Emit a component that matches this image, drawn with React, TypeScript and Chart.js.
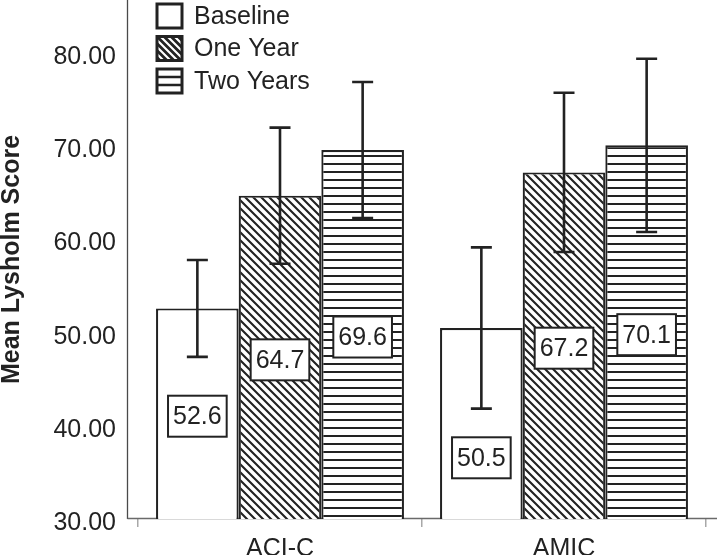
import React, { useEffect, useRef } from 'react';
import { Chart, registerables } from 'chart.js';

Chart.register(...registerables);

const categories = ['ACI-C', 'AMIC'];
const seriesLabels = ['Baseline', 'One Year', 'Two Years'];
const baseline = [52.6, 50.5];
const oneYear = [64.7, 67.2];
const twoYears = [69.6, 70.1];
const baselineErr = [5.2, 8.65];
const oneYearErr = [7.3, 8.55];
const twoYearsErr = [7.3, 9.3];
const yTicks = [30, 40, 50, 60, 70, 80];
const yMin = 30;
const yMax = 85.7;

const INK = '#222222';
const FONT = "'Liberation Sans', Arial, Helvetica, sans-serif";
const FS = 25;

function makeDiag(): CanvasPattern | string {
  const s = 8;
  const c = document.createElement('canvas');
  c.width = s;
  c.height = s;
  const g = c.getContext('2d');
  if (!g) return '#fff';
  g.fillStyle = '#fff';
  g.fillRect(0, 0, s, s);
  g.strokeStyle = INK;
  g.lineWidth = 2.1;
  g.beginPath();
  g.moveTo(-1, -1);
  g.lineTo(s + 1, s + 1);
  g.moveTo(-2, s - 2);
  g.lineTo(2, s + 2);
  g.moveTo(s - 2, -2);
  g.lineTo(s + 2, 2);
  g.stroke();
  return g.createPattern(c, 'repeat') || '#fff';
}

function makeHoriz(): CanvasPattern | string {
  const s = 8;
  const c = document.createElement('canvas');
  c.width = s;
  c.height = s;
  const g = c.getContext('2d');
  if (!g) return '#fff';
  g.fillStyle = '#fff';
  g.fillRect(0, 0, s, s);
  g.fillStyle = INK;
  g.fillRect(0, 3, s, 2);
  return g.createPattern(c, 'repeat') || '#fff';
}

const axesPlugin = {
  id: 'customAxes',
  beforeDatasetsDraw(chart: any) {
    const { ctx, chartArea } = chart;
    ctx.save();
    ctx.strokeStyle = '#4a4a4a';
    ctx.lineWidth = 1.3;
    ctx.beginPath();
    const ax = chartArea.left - 10.5;
    ctx.moveTo(ax, chartArea.top);
    ctx.lineTo(ax, chartArea.bottom);
    ctx.stroke();
    ctx.strokeStyle = '#6a6a6a';
    ctx.lineWidth = 1.5;
    ctx.beginPath();
    ctx.moveTo(ax, chartArea.bottom - 0.5);
    ctx.lineTo(chart.width, chartArea.bottom - 0.5);
    ctx.stroke();
    ctx.restore();
  },
};

const errorPlugin = {
  id: 'errorBarsAndLabels',
  afterDatasetsDraw(chart: any) {
    const { ctx } = chart;
    const ys = chart.scales.y;
    const base = ys.getPixelForValue(yMin);
    ctx.save();
    chart.data.datasets.forEach((ds: any, di: number) => {
      const meta = chart.getDatasetMeta(di);
      meta.data.forEach((el: any, i: number) => {
        const v = ds.data[i];
        const e = ds.errors[i];
        const hi = ys.getPixelForValue(v + e);
        const lo = ys.getPixelForValue(v - e);
        ctx.strokeStyle = INK;
        ctx.lineWidth = 2.6;
        ctx.beginPath();
        ctx.moveTo(el.x, hi);
        ctx.lineTo(el.x, lo);
        ctx.moveTo(el.x - 10.5, hi);
        ctx.lineTo(el.x + 10.5, hi);
        ctx.moveTo(el.x - 10.5, lo);
        ctx.lineTo(el.x + 10.5, lo);
        ctx.stroke();
      });
    });
    ctx.font = `${FS}px ${FONT}`;
    ctx.textAlign = 'center';
    ctx.textBaseline = 'middle';
    chart.data.datasets.forEach((ds: any, di: number) => {
      const meta = chart.getDatasetMeta(di);
      meta.data.forEach((el: any, i: number) => {
        const v = ds.data[i];
        const e = ds.errors[i];
        const text = v.toFixed(1);
        const w = ctx.measureText(text).width + 10;
        const h = 41;
        const top = ys.getPixelForValue(v);
        const lo = ys.getPixelForValue(v - e);
        let cy = (top + base) / 2 + 2.5;
        if (cy - h / 2 < lo + 4) cy = (lo + base) / 2 - 6;
        ctx.fillStyle = '#fff';
        ctx.fillRect(el.x - w / 2, cy - h / 2, w, h);
        ctx.strokeStyle = INK;
        ctx.lineWidth = 2;
        ctx.strokeRect(el.x - w / 2, cy - h / 2, w, h);
        ctx.fillStyle = INK;
        ctx.fillText(text, el.x, cy + 1);
      });
    });
    ctx.restore();
  },
};

const legendPlugin = {
  id: 'customLegend',
  afterDraw(chart: any) {
    const { ctx } = chart;
    ctx.save();
    const bx = 157;
    const bw = 25;
    const bh = 24;
    chart.data.datasets.forEach((ds: any, di: number) => {
      const by = 4 + di * 32.5;
      ctx.fillStyle = '#fff';
      ctx.fillRect(bx, by, bw, bh);
      ctx.save();
      ctx.beginPath();
      ctx.rect(bx, by, bw, bh);
      ctx.clip();
      ctx.strokeStyle = INK;
      if (ds.hatch === 'diag') {
        ctx.lineWidth = 2.8;
        ctx.beginPath();
        for (let k = -4; k <= 4; k++) {
          const off = k * 7;
          ctx.moveTo(bx + off - 2, by - 2);
          ctx.lineTo(bx + off + bh + 2, by + bh + 2);
        }
        ctx.stroke();
      } else if (ds.hatch === 'horiz') {
        ctx.lineWidth = 2.6;
        ctx.beginPath();
        ctx.moveTo(bx, by + bh / 3);
        ctx.lineTo(bx + bw, by + bh / 3);
        ctx.moveTo(bx, by + (2 * bh) / 3);
        ctx.lineTo(bx + bw, by + (2 * bh) / 3);
        ctx.stroke();
      }
      ctx.restore();
      ctx.strokeStyle = INK;
      ctx.lineWidth = 3;
      ctx.strokeRect(bx, by, bw, bh);
      ctx.fillStyle = INK;
      ctx.font = `${FS}px ${FONT}`;
      ctx.textAlign = 'left';
      ctx.textBaseline = 'middle';
      ctx.fillText(ds.label, 194, by + bh / 2 + 1);
    });
    ctx.restore();
  },
};

export default function App() {
  const ref = useRef<HTMLCanvasElement | null>(null);

  useEffect(() => {
    document.body.style.margin = '0';
    const canvas = ref.current;
    if (!canvas) return;
    const diag = makeDiag();
    const horiz = makeHoriz();
    const common = {
      borderColor: INK,
      borderWidth: 2.2,
      borderSkipped: false,
      categoryPercentage: 0.873,
      barPercentage: 1.0,
    };
    const chart = new Chart(canvas, {
      type: 'bar',
      data: {
        labels: categories,
        datasets: [
          { label: seriesLabels[0], data: baseline, errors: baselineErr, hatch: 'none', backgroundColor: '#ffffff', ...common } as any,
          { label: seriesLabels[1], data: oneYear, errors: oneYearErr, hatch: 'diag', backgroundColor: diag, ...common } as any,
          { label: seriesLabels[2], data: twoYears, errors: twoYearsErr, hatch: 'horiz', backgroundColor: horiz, ...common } as any,
        ],
      },
      options: {
        animation: false,
        responsive: false,
        maintainAspectRatio: false,
        layout: { padding: { left: 0, right: 11, top: 0, bottom: 0 } },
        plugins: {
          legend: { display: false },
          tooltip: { enabled: false },
        },
        scales: {
          x: {
            type: 'category',
            offset: true,
            grid: {
              display: true,
              drawOnChartArea: false,
              drawTicks: true,
              tickLength: 8,
              color: '#a8a8a8',
              lineWidth: 1.5,
              offset: true,
            },
            border: { display: false },
            ticks: {
              font: { family: FONT, size: FS },
              color: INK,
              padding: 7,
            },
            afterFit: (s: any) => {
              s.height = 36;
              s.paddingLeft = 0;
              s.paddingRight = 0;
            },
          },
          y: {
            min: yMin,
            max: yMax,
            afterBuildTicks: (s: any) => {
              s.ticks = yTicks.map((v) => ({ value: v }));
            },
            grid: { display: false },
            border: { display: false },
            ticks: {
              font: { family: FONT, size: FS },
              color: INK,
              padding: 14,
              labelOffset: 4,
              callback: (v: any) => Number(v).toFixed(2),
            },
            title: {
              display: true,
              text: 'Mean Lysholm Score',
              font: { family: FONT, size: FS, weight: 'bold', lineHeight: 1 },
              color: INK,
              padding: { top: 0, bottom: 0 },
            },
            afterFit: (s: any) => {
              s.width = 138;
              s.paddingTop = 0;
              s.paddingBottom = 0;
            },
          },
        },
      } as any,
      plugins: [axesPlugin, errorPlugin, legendPlugin],
    });
    return () => chart.destroy();
  }, []);

  return (
    <div style={{ width: 717, height: 555, background: '#fff' }}>
      <canvas ref={ref} width={717} height={555} style={{ display: 'block' }} />
    </div>
  );
}
